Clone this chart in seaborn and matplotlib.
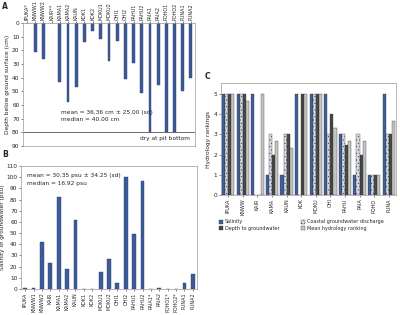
import matplotlib
matplotlib.use('Agg')
import matplotlib.pyplot as plt
import seaborn as sns
import pandas as pd

# Panel A: depth below ground surface
sites_a = ['IPUKA*', 'KNWW1', 'KNWW2', 'KAIR**', 'KAMA1', 'KAMA2', 'KAUN', 'KOK1', 'KOK2',
           'MOKU1', 'MOKU2', 'OHI1', 'OHI2', 'PAHU1', 'PAHU2', 'PAIA1', 'PAIA2', 'POHO1',
           'POHO2', 'PUNA1', 'PUNA2']
depth = [0, 21, 26, 0, 43, 58, 47, 14, 6, 12, 28, 13, 41, 29, 51, 80, 45, 80, 80, 50, 40]

# Panel B: salinity
sites_b = ['IPUKA', 'KNWW1', 'KNWW2', 'KAIR', 'KAMA1', 'KAMA2', 'KAUN', 'KOK1', 'KOK2',
           'MOKU1', 'MOKU2', 'OHI1', 'OHI2', 'PAHU1', 'PAHU2', 'PAIA1*', 'PAIA2', 'POHO1*',
           'POHO2*', 'PUNA1', 'PUNA2']
salinity = [1, 1, 42, 23, 82, 18, 62, 0.3, 0.3, 15, 27, 5, 100, 49, 97, 0, 0.5, 0, 0, 5.5, 13]

# Panel C: hydrology rankings
sites_c = ['IPUKA', 'KNWW', 'KAIR', 'KAMA', 'KAUN', 'KOK', 'MOKU', 'OHI', 'PAHU', 'PAIA',
           'POHO', 'PUNA']
rank_salinity = [5, 5, 5, 1, 1, 5, 5, 5, 3, 1, 1, 5]
rank_cgd = [5, 5, 0, 3, 3, 0, 5, 3, 3, 3, 1, 3]
rank_depth = [5, 5, 0, 2, 3, 5, 5, 4, 2.5, 2, 1, 3]
rank_mean = [5, 4.67, 5, 2.67, 2.33, 5, 5, 3.33, 2.67, 2.67, 1, 3.67]
series_c = ['Salinity', 'Coastal groundwater discharge', 'Depth to groundwater',
            'Mean hydrology ranking']

sns.set_style('white')
plt.rcParams['font.family'] = ['DejaVu Sans']
plt.rcParams['hatch.linewidth'] = 0.3
fs = 4.2
blue = '#3d5b99'

fig = plt.figure(figsize=(4.0, 3.15), dpi=100)

def style_axes(ax):
    for s in ax.spines.values():
        s.set_color('#999999')
        s.set_linewidth(0.5)
    ax.tick_params(axis='y', labelsize=fs, pad=1, length=1.5, left=True, width=0.4)

# ---- A ----
axA = fig.add_axes([23/400, 1-146/315, 172/400, 123/315])
sns.barplot(x=sites_a, y=depth, ax=axA, color=blue, width=0.35, saturation=1,
            edgecolor='#2a4070', linewidth=0.3)
axA.set_ylim(90, 0)
axA.set_yticks(range(0, 91, 10))
axA.xaxis.tick_top()
axA.tick_params(axis='x', labelrotation=90, labelsize=fs - 0.7, pad=1, length=1.5, top=True,
                width=0.4)
axA.set_ylabel('Depth below ground surface (cm)', fontsize=fs, labelpad=1.5)
axA.axhline(80, color='#555555', lw=0.6)
axA.text(13.8, 83, 'dry at pit bottom', fontsize=fs, va='top')
axA.text(4.1, 68, 'mean = 36.36 cm \u00b1 25.00 (sd)\nmedian = 40.00 cm', fontsize=fs,
         va='center', linespacing=1.6)
style_axes(axA)
fig.text(0.005, 0.995, 'A', fontsize=5.5, fontweight='bold', va='top')

# ---- B ----
axB = fig.add_axes([21/400, 1-289/315, 176/400, 123/315])
sns.barplot(x=sites_b, y=salinity, ax=axB, color=blue, width=0.45, saturation=1,
            edgecolor='#2a4070', linewidth=0.3)
axB.set_ylim(0, 110)
axB.set_yticks(range(0, 111, 10))
axB.tick_params(axis='x', labelrotation=90, labelsize=fs - 0.7, pad=1, length=1.5, bottom=True,
                width=0.4)
axB.set_ylabel('Salinity of groundwater (psu)', fontsize=fs, labelpad=1)
axB.text(0.2, 98, 'mean = 30.35 psu \u00b1 34.25 (sd)\nmedian = 16.92 psu', fontsize=fs,
         va='center', linespacing=1.6)
style_axes(axB)
fig.text(0.005, 1-150/315, 'B', fontsize=5.5, fontweight='bold', va='top')

# ---- C ----
dfc = pd.DataFrame({
    'site': sites_c * 4,
    'series': [series_c[0]] * 12 + [series_c[1]] * 12 + [series_c[2]] * 12 + [series_c[3]] * 12,
    'rank': rank_salinity + rank_cgd + rank_depth + rank_mean,
})
palette_c = ['#3f5e9c', '#d6dce6', '#4a4a4a', '#c4c4c4']
axC = fig.add_axes([221/400, 1-195/315, 175/400, 112/315])
sns.barplot(data=dfc, x='site', y='rank', hue='series', hue_order=series_c, ax=axC,
            palette=palette_c, width=0.85, saturation=1, edgecolor='#333333', linewidth=0.25)
hatches = ['', '.....', '||||', '']
for cont, h in zip(axC.containers, hatches):
    for bar in cont:
        bar.set_hatch(h)
axC.set_ylim(0, 5.55)
axC.set_yticks(range(0, 6))
axC.set_xlabel('')
axC.set_ylabel('Hydrology rankings', fontsize=fs, labelpad=2)
axC.tick_params(axis='x', labelrotation=90, labelsize=fs - 0.7, pad=1, length=1.5, bottom=True,
                width=0.4)
style_axes(axC)
handles, labels = axC.get_legend_handles_labels()
for hd, h in zip(handles, hatches):
    hd.set_hatch(h)
order = [0, 2, 1, 3]
axC.legend([handles[i] for i in order], [labels[i] for i in order],
           loc='upper left', bbox_to_anchor=(-0.02, -0.2), ncol=2, fontsize=3.5,
           frameon=False, handlelength=0.8, handleheight=0.8, handletextpad=0.3,
           columnspacing=4.5, labelspacing=0.3, borderaxespad=0)
fig.text(205/400, 1-72/315, 'C', fontsize=5.5, fontweight='bold', va='top')

fig.savefig('out.png', dpi=100)
